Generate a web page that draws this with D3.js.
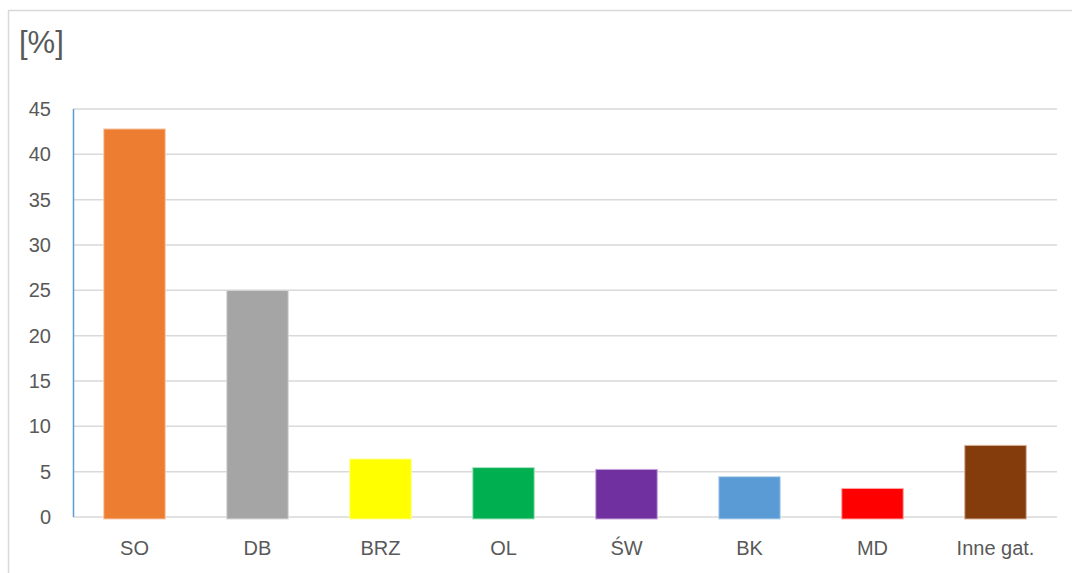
<!DOCTYPE html>
<html>
<head>
<meta charset="utf-8">
<script src="https://cdn.jsdelivr.net/npm/d3@7"></script>
<style>
  body { margin: 0; background: #fff; }
  text { font-family: "Liberation Sans", Arial, sans-serif; fill: #595959; }
</style>
</head>
<body>
<div id="chart"></div>
<script>
// data
const categories = ["SO", "DB", "BRZ", "OL", "ŚW", "BK", "MD", "Inne gat."];
const values = [42.8, 25.0, 6.4, 5.45, 5.25, 4.45, 3.15, 7.9];
const colors = ["#ed7d31", "#a5a5a5", "#ffff00", "#00b050", "#7030a0", "#5b9bd5", "#ff0000", "#843c0c"];
const strokes = ["#f8cbad", "#d9d9d9", "#ffff99", "#a9e3c2", "#c6a7dd", "#bdd7ee", "#ffa7a7", "#d7b39a"];
const yTicks = [0, 5, 10, 15, 20, 25, 30, 35, 40, 45];

let width = 1072, height = 573;
let margin = { top: 109, left: 73 };
let w = 984;           // plot width
let h = 517 - margin.top; // plot height

let svg = d3.select("#chart").append("svg")
    .attr("width", width)
    .attr("height", height);

// outer frame (clipped on right/bottom like the original)
svg.append("rect")
    .attr("x", 8.5).attr("y", 10.5)
    .attr("width", 1100).attr("height", 600)
    .attr("fill", "none")
    .attr("stroke", "#d9d9d9")
    .attr("stroke-width", 1.5);

let g = svg.append("g")
    .attr("transform", "translate(" + margin.left + "," + margin.top + ")");

let x = d3.scaleBand()
    .domain(categories)
    .range([0, w])
    .paddingInner(0.5)
    .paddingOuter(0.25);

let y = d3.scaleLinear()
    .domain([0, 45])
    .range([h, 0]);

// gridlines
g.selectAll(".grid")
    .data(yTicks)
    .enter().append("line")
    .attr("class", "grid")
    .attr("x1", 0).attr("x2", w)
    .attr("y1", d => y(d)).attr("y2", d => y(d))
    .attr("stroke", "#d9d9d9")
    .attr("stroke-width", 1.5);

// y axis labels
let yAxis = d3.axisLeft(y).tickValues(yTicks).tickSize(0).tickPadding(22);
let ya = g.append("g").call(yAxis);
ya.select(".domain").remove();
ya.selectAll("text")
    .style("font-size", "20px")
    .style("font-family", "Liberation Sans, Arial, sans-serif")
    .attr("fill", "#595959");

// bars
g.selectAll(".bar")
    .data(values)
    .enter().append("rect")
    .attr("class", "bar")
    .attr("x", (d, i) => x(categories[i]))
    .attr("y", d => y(d))
    .attr("width", x.bandwidth())
    .attr("height", d => h - y(d) + 2)
    .attr("fill", (d, i) => colors[i])
    .attr("stroke", (d, i) => strokes[i])
    .attr("stroke-width", 1);

// left axis line
g.append("line")
    .attr("x1", 0.5).attr("x2", 0.5)
    .attr("y1", y(45)).attr("y2", y(0))
    .attr("stroke", "#5b9bd5")
    .attr("stroke-width", 1.5);

// x axis labels
let xAxis = d3.axisBottom(x).tickSize(0).tickPadding(24);
let xa = g.append("g")
    .attr("transform", "translate(0," + h + ")")
    .call(xAxis);
xa.select(".domain").remove();
xa.selectAll("text")
    .style("font-size", "20px")
    .style("font-family", "Liberation Sans, Arial, sans-serif")
    .attr("fill", "#595959");

// unit label
svg.append("text")
    .attr("x", 19)
    .attr("y", 53)
    .style("font-size", "31px")
    .text("[%]");
</script>
</body>
</html>
